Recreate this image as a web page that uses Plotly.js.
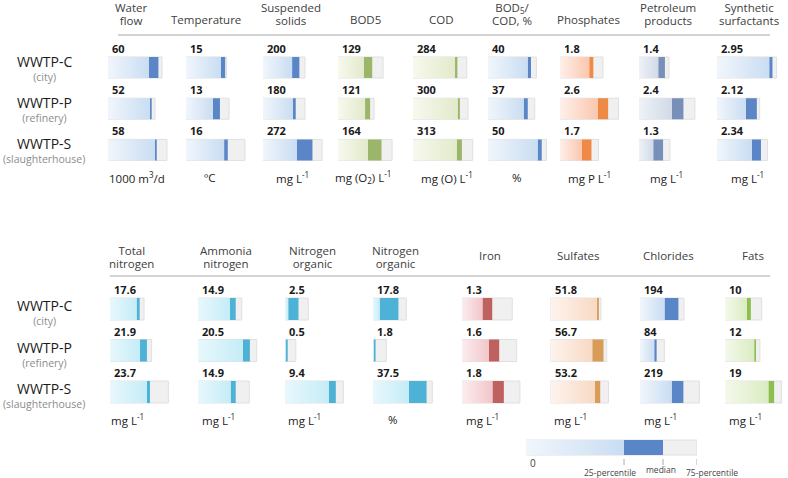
<!DOCTYPE html>
<html><head><meta charset="utf-8">
<script src="https://cdn.plot.ly/plotly-3.0.1.min.js"></script>
<style>html,body{margin:0;padding:0;background:#fff}#chart{width:788px;height:478px}</style>
</head><body><div id="chart"></div>
<script>
// ---------------- DATA ----------------
const plants = ['WWTP-C', 'WWTP-P', 'WWTP-S'];
const plantTypes = ['(city)', '(refinery)', '(slaughterhouse)'];

const topParams = ['Water<br>flow', 'Temperature', 'Suspended<br>solids', 'BOD5', 'COD',
  'BOD<sub>5</sub>/<br>COD, %', 'Phosphates', 'Petroleum<br>products', 'Synthetic<br>surfactants'];
const topUnits = ['1000 m<sup>3</sup>/d', 'ºC', 'mg L<sup>-1</sup>', 'mg (O<sub>2</sub>) L<sup>-1</sup>',
  'mg (O) L<sup>-1</sup>', '%', 'mg P L<sup>-1</sup>', 'mg L<sup>-1</sup>', 'mg L<sup>-1</sup>'];
// each inner array: [WWTP-C, WWTP-P, WWTP-S]
const topMedian = [[60, 52, 58], [15, 13, 16], [200, 180, 272], [129, 121, 164], [284, 300, 313],
  [40, 37, 50], [1.8, 2.6, 1.7], [1.4, 2.4, 1.3], [2.95, 2.12, 2.34]];
const topP25 = [[48.8, 50, 55.9], [13.4, 10.3, 14.6], [160, 165, 187], [98, 102, 113], [269, 286, 280],
  [36.9, 33.2, 46.2], [1.58, 2.05, 1.17], [1.04, 1.77, 0.77], [2.78, 1.54, 1.85]];
const topP75 = [[64.3, 55.9, 70.2], [15.5, 16.5, 22.6], [231, 231, 325], [170, 136, 204], [344, 352, 382],
  [45, 43.5, 54.4], [2.32, 3.16, 2.08], [1.62, 3.02, 1.67], [3.17, 2.27, 2.69]];

const bottomParams = ['Total<br>nitrogen', 'Ammonia<br>nitrogen', 'Nitrogen<br>organic', 'Nitrogen<br>organic',
  'Iron', 'Sulfates', 'Chlorides', 'Fats'];
const bottomUnits = ['mg L<sup>-1</sup>', 'mg L<sup>-1</sup>', 'mg L<sup>-1</sup>', '%',
  'mg L<sup>-1</sup>', 'mg L<sup>-1</sup>', 'mg L<sup>-1</sup>', 'mg L<sup>-1</sup>'];
const bottomMedian = [[17.6, 21.9, 23.7], [14.9, 20.5, 14.9], [2.5, 0.5, 9.4], [17.8, 1.8, 37.5],
  [1.3, 1.6, 1.8], [51.8, 56.7, 53.2], [194, 84, 219], [10, 12, 19]];
const bottomP25 = [[15.8, 17.8, 21.8], [12.6, 17.7, 12.9], [0.6, 0.13, 8.1], [4.7, 0.5, 25.2],
  [0.88, 1.16, 1.31], [49.8, 44.7, 47.6], [124, 72, 160], [8.5, 11.3, 16.8]];
const bottomP75 = [[20.2, 24.7, 34.6], [17.3, 23.2, 20.3], [4.3, 2.0, 10.8], [23.3, 9.3, 41.5],
  [2.16, 2.35, 2.49], [54, 60.1, 62.1], [222, 123, 300], [14.2, 13.5, 21.9]];

// key (legend) sample
const keyLabels = ['0', '25-percentile', 'median', '75-percentile'];
const keySample = [98, 137, 171]; // 25-percentile, median, 75-percentile on sample scale

// ---------------- LAYOUT / STYLE ----------------
const W = 788, H = 478;
const px = v => v / W;
const py = v => 1 - v / H;
const FONT = 'Open Sans, Noto Sans, sans-serif';

const palettes = {
  blue:   {g0: '#f1f6fc', g1: '#c9ddf2', dark: '#5a86c8'},
  green:  {g0: '#f7f9ee', g1: '#e2eacb', dark: '#9bb56a'},
  orange: {g0: '#fef0ea', g1: '#fbc7ae', dark: '#ee8a45'},
  slate:  {g0: '#eff2f6', g1: '#d0dae7', dark: '#7890b8'},
  cyan:   {g0: '#e8f8fc', g1: '#c5ecf7', dark: '#4db2d6'},
  red:    {g0: '#fcedef', g1: '#f1c6ca', dark: '#bf625f'},
  peach:  {g0: '#fdf4ee', g1: '#f8d9c4', dark: '#d79c57'},
  lime:   {g0: '#f4f9eb', g1: '#daecc2', dark: '#8dbf4e'}
};

const panels = [
  {params: topParams, units: topUnits, med: topMedian, p25: topP25, p75: topP75,
   x0: [108, 186, 263, 338, 413, 488, 560, 639, 717],
   scale: [1.19, 0.383, 5.5, 3.77, 6.4, 0.93, 0.054, 0.054, 0.0532],
   pal: ['blue', 'blue', 'blue', 'green', 'green', 'blue', 'orange', 'slate', 'blue'],
   headX: [131, 206, 291, 365, 441, 512, 588, 668, 749],
   unitX: [137, 210, 292, 363, 447, 517, 589, 666, 747],
   rowTop: 46.9, rowStep: 41.2, barW: 0.51, headTwo: 13.5, headOne: 19, unitY: 177,
   lineY: 35, lineX: [118, 770], labMid: 0.3},
  {params: bottomParams, units: bottomUnits, med: bottomMedian, p25: bottomP25, p75: bottomP75,
   x0: [110, 198, 285, 373, 462, 550.5, 640, 725],
   scale: [0.593, 0.395, 0.185, 0.7, 0.043, 1.07, 5.05, 0.387],
   pal: ['cyan', 'cyan', 'cyan', 'cyan', 'red', 'peach', 'blue', 'lime'],
   headX: [131, 226, 312, 395, 490, 578, 668, 753],
   unitX: [127, 218, 304, 393, 482, 570, 660, 745],
   rowTop: 288.25, rowStep: 41.5, barW: 0.53, headTwo: 256.5, headOne: 256, unitY: 419,
   lineY: 276, lineX: [110, 770], labMid: 3.3}
];

const traces = [];
const annotations = [];
const shapes = [];
const layout = {
  width: W, height: H, margin: {l: 0, r: 0, t: 0, b: 0},
  paper_bgcolor: '#fff', plot_bgcolor: 'rgba(0,0,0,0)',
  showlegend: false, barmode: 'overlay', font: {family: FONT},
  annotations, shapes
};

function addCell(xa, ya, p25, med, p75, palName, bw) {
  const pal = palettes[palName];
  const rows = p25.map((_, i) => i);
  // background (to 75-percentile)
  traces.push({type: 'bar', orientation: 'h', xaxis: xa, yaxis: ya, y: rows, x: p75, base: 0, width: bw,
    marker: {color: '#f0f0f0', line: {color: '#e0e0e0', width: 1}}, hoverinfo: 'skip'});
  // 25-percentile -> median
  traces.push({type: 'bar', orientation: 'h', xaxis: xa, yaxis: ya, y: rows,
    x: med.map((m, i) => m - p25[i]), base: p25, width: bw,
    marker: {color: pal.dark, line: {width: 0}}, hoverinfo: 'skip'});
  // gradient 0 -> 25-percentile
  rows.forEach(r => {
    const h = bw / 2;
    traces.push({type: 'scatter', mode: 'none', xaxis: xa, yaxis: ya,
      x: [0, p25[r], p25[r], 0, 0], y: [r - h, r - h, r + h, r + h, r - h],
      fill: 'toself', fillcolor: pal.g1,
      fillgradient: {type: 'horizontal', colorscale: [[0, pal.g0], [1, pal.g1]]},
      hoverinfo: 'skip'});
  });
}

let xi = 0;
panels.forEach((P, pi) => {
  const yName = pi === 0 ? 'y' : 'y2';
  const yKey = pi === 0 ? 'yaxis' : 'yaxis2';
  const T = P.rowTop, B = P.rowTop + 3 * P.rowStep;
  layout[yKey] = {domain: [py(B), py(T)], range: [2.5, -0.5], visible: false, fixedrange: true,
    anchor: 'x' + (xi === 0 ? '' : (xi + 1))};
  P.params.forEach((name, c) => {
    xi += 1;
    const xName = 'x' + (xi === 1 ? '' : xi);
    const xKey = 'xaxis' + (xi === 1 ? '' : xi);
    const x0 = P.x0[c];
    const wpx = Math.min(85, W - x0);
    layout[xKey] = {domain: [px(x0), px(x0 + wpx)], range: [0, wpx * P.scale[c]], visible: false,
      fixedrange: true, anchor: yName};
    addCell(xName, yName, P.p25[c], P.med[c], P.p75[c], P.pal[c], P.barW);
    // value labels (median)
    P.med[c].forEach((v, r) => {
      annotations.push({xref: xName, yref: yName, x: 0, y: r, xanchor: 'left', yanchor: 'middle',
        xshift: 2, yshift: 19.5, showarrow: false, text: '<b>' + v + '</b>',
        font: {family: FONT, size: 11, color: '#1a1a1a'}});
    });
    // header (line spacing 13 px, text 11.5 px)
    const two = name.indexOf('<br>') >= 0;
    annotations.push({xref: 'paper', yref: 'paper', x: px(P.headX[c]), y: py(two ? P.headTwo : P.headOne),
      xanchor: 'center', yanchor: 'middle', showarrow: false,
      text: name.split('<br>').map(s => '<span style="font-size:11.5px">' + s + '</span>').join('<br>'),
      font: {family: FONT, size: 10, color: '#404040'}});
    // unit
    annotations.push({xref: 'paper', yref: 'paper', x: px(P.unitX[c]), y: py(P.unitY),
      xanchor: 'center', yanchor: 'middle', showarrow: false, text: P.units[c],
      font: {family: FONT, size: 11.5, color: '#222'}});
  });
  // separator line
  shapes.push({type: 'line', xref: 'paper', yref: 'paper', x0: px(P.lineX[0]), x1: px(P.lineX[1]),
    y0: py(P.lineY), y1: py(P.lineY), line: {color: '#c4c4c4', width: 1.5}});
  // row labels
  plants.forEach((pl, r) => {
    const cy = P.rowTop + (r + 0.5) * P.rowStep;
    annotations.push({xref: 'paper', yref: 'paper', x: px(44), y: py(cy + P.labMid), xanchor: 'center',
      yanchor: 'middle', showarrow: false,
      text: '<span style="font-size:14px;fill:#1a1a1a">' + pl + '</span><br>' + plantTypes[r],
      font: {family: FONT, size: 10.5, color: '#8c8c8c'}});
  });
});

// ---------------- KEY ----------------
xi += 1;
const kx = 'x' + xi, kxKey = 'xaxis' + xi;
layout[kxKey] = {domain: [px(526), px(526 + 171)], range: [0, 171], visible: false, fixedrange: true, anchor: 'y3'};
layout.yaxis3 = {domain: [py(462.5), py(432.5)], range: [0.5, -0.5], visible: false, fixedrange: true, anchor: kx};
addCell(kx, 'y3', [keySample[0]], [keySample[1]], [keySample[2]], 'blue', 0.5);
keySample.forEach(v => {
  shapes.push({type: 'line', xref: kx, yref: 'paper', x0: v, x1: v, y0: py(459), y1: py(465),
    line: {color: '#aaaaaa', width: 1}});
});
const keyPos = [[528, 463, 'left'], [610, 472, 'center'], [661, 469, 'center'], [712, 472, 'center']];
keyLabels.forEach((t, i) => {
  annotations.push({xref: 'paper', yref: 'paper', x: px(keyPos[i][0]), y: py(keyPos[i][1]),
    xanchor: keyPos[i][2], yanchor: 'middle', showarrow: false, text: t,
    font: {family: FONT, size: i === 0 ? 10 : 8.5, color: '#444'}});
});

Plotly.newPlot('chart', traces, layout, {staticPlot: true, displayModeBar: false});
</script></body></html>
